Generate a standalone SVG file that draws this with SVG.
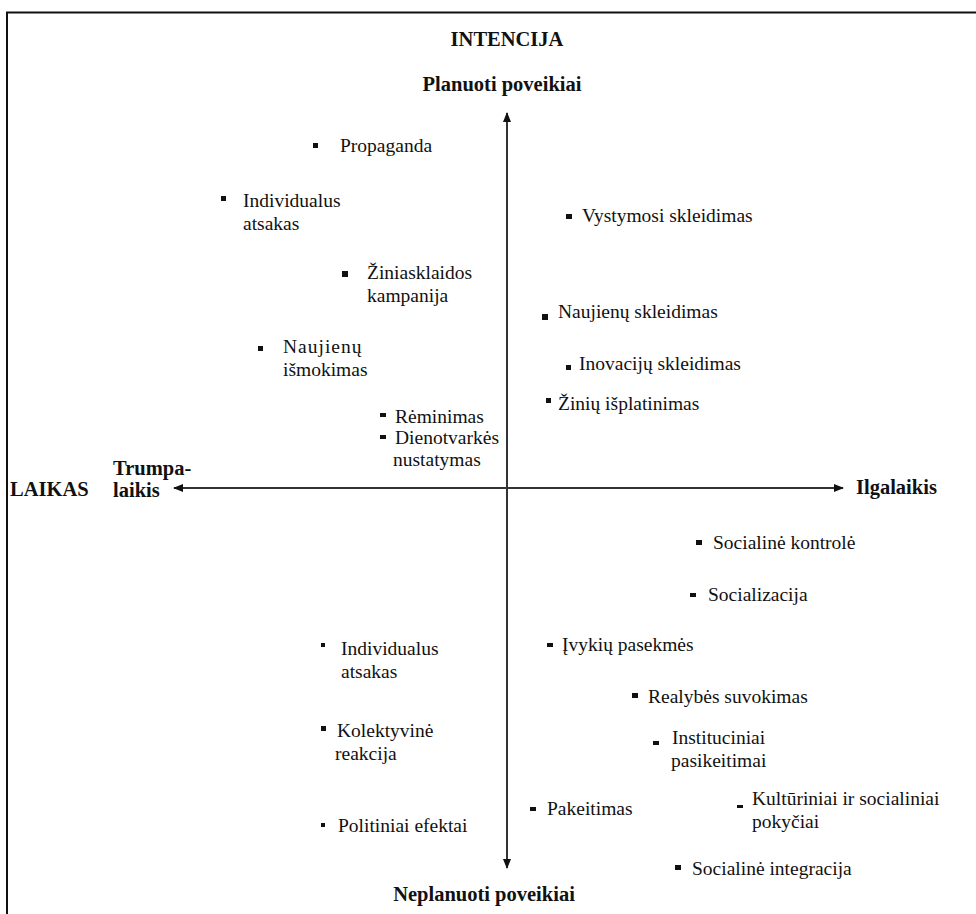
<svg xmlns="http://www.w3.org/2000/svg" width="976" height="914" viewBox="0 0 976 914">
<defs>
<style>
.t{font-family:"Liberation Serif","Tinos","DejaVu Serif","Noto Serif",serif;font-size:19.5px;fill:#111}
.h{font-family:"Liberation Serif","Tinos","DejaVu Serif","Noto Serif",serif;font-size:20.5px;font-weight:bold;fill:#111}
.b{fill:#111}
.ax{stroke:#333;stroke-width:2;fill:none}
</style>
<marker id="ah" viewBox="0 0 10 10" refX="9" refY="5" markerWidth="5" markerHeight="5" orient="auto" markerUnits="strokeWidth">
<path d="M0,1 L10,5 L0,9 z" fill="#111"/>
</marker>
</defs>
<rect x="0" y="0" width="976" height="914" fill="#fff"/>
<path d="M7,914 V12.5 H976" stroke="#111" stroke-width="2" fill="none"/>

<g id="connectors">
<line class="ax" x1="507" y1="862" x2="507" y2="113" marker-end="url(#ah)"/>
<line class="ax" x1="507" y1="862" x2="507" y2="868" marker-end="url(#ah)"/>
<line class="ax" x1="176" y1="488" x2="843" y2="488" marker-end="url(#ah)"/>
<line class="ax" x1="180" y1="488" x2="174" y2="488" marker-end="url(#ah)"/>
</g>

<g id="intencija"><text class="h" x="507" y="46" text-anchor="middle">INTENCIJA</text></g>
<g id="planuoti"><text class="h" x="502" y="91" text-anchor="middle">Planuoti poveikiai</text></g>
<g id="neplanuoti"><text class="h" x="484" y="901" text-anchor="middle">Neplanuoti poveikiai</text></g>
<g id="laikas"><text class="h" x="10" y="496">LAIKAS</text></g>
<g id="trumpalaikis"><text class="h" x="113" y="475">Trumpa-</text><text class="h" x="113" y="497">laikis</text></g>
<g id="ilgalaikis"><text class="h" x="856" y="494">Ilgalaikis</text></g>

<g id="propaganda"><rect class="b" x="313" y="143" width="5" height="5"/><text class="t" x="340" y="152">Propaganda</text></g>
<g id="individualus1"><rect class="b" x="221" y="196" width="5" height="5"/><text class="t" x="243" y="207">Individualus</text><text class="t" x="243" y="230">atsakas</text></g>
<g id="ziniasklaidos"><rect class="b" x="342" y="271" width="6" height="6"/><text class="t" x="367" y="279">Žiniasklaidos</text><text class="t" x="367" y="302">kampanija</text></g>
<g id="naujienu-ismokimas"><rect class="b" x="258" y="346" width="5" height="5"/><text class="t" x="283" y="353" letter-spacing="1">Naujienų</text><text class="t" x="283" y="376">išmokimas</text></g>
<g id="reminimas"><rect class="b" x="380" y="413" width="6" height="4"/><text class="t" x="395" y="423">Rėminimas</text></g>
<g id="dienotvarkes"><rect class="b" x="380" y="435" width="6" height="4"/><text class="t" x="395" y="444">Dienotvarkės</text><text class="t" x="393" y="466">nustatymas</text></g>

<g id="vystymosi"><rect class="b" x="566" y="214" width="6" height="5"/><text class="t" x="582" y="222">Vystymosi skleidimas</text></g>
<g id="naujienu-skleidimas"><rect class="b" x="542" y="314" width="6" height="6"/><text class="t" x="558" y="318">Naujienų skleidimas</text></g>
<g id="inovaciju"><rect class="b" x="566" y="365" width="5" height="5"/><text class="t" x="579" y="370">Inovacijų skleidimas</text></g>
<g id="ziniu"><rect class="b" x="546" y="398" width="5" height="5"/><text class="t" x="558" y="410">Žinių išplatinimas</text></g>

<g id="individualus2"><rect class="b" x="321" y="643" width="4" height="4"/><text class="t" x="341" y="655">Individualus</text><text class="t" x="341" y="678">atsakas</text></g>
<g id="kolektyvine"><rect class="b" x="321" y="726" width="5" height="5"/><text class="t" x="337" y="737">Kolektyvinė</text><text class="t" x="335" y="760">reakcija</text></g>
<g id="politiniai"><rect class="b" x="321" y="823" width="4" height="4"/><text class="t" x="338" y="832">Politiniai efektai</text></g>

<g id="socialine-kontrole"><rect class="b" x="696" y="540" width="6" height="5"/><text class="t" x="713" y="549">Socialinė kontrolė</text></g>
<g id="socializacija"><rect class="b" x="690" y="593" width="6" height="4"/><text class="t" x="708" y="601">Socializacija</text></g>
<g id="ivykiu"><rect class="b" x="547" y="643" width="6" height="4"/><text class="t" x="562" y="651">Įvykių pasekmės</text></g>
<g id="realybes"><rect class="b" x="632" y="693" width="6" height="5"/><text class="t" x="648" y="703">Realybės suvokimas</text></g>
<g id="instituciniai"><rect class="b" x="653" y="741" width="6" height="4"/><text class="t" x="672" y="744">Instituciniai</text><text class="t" x="671" y="767">pasikeitimai</text></g>
<g id="pakeitimas"><rect class="b" x="530" y="807" width="6" height="4"/><text class="t" x="547" y="815">Pakeitimas</text></g>
<g id="kulturiniai"><rect class="b" x="737" y="805" width="6" height="3"/><text class="t" x="752" y="805">Kultūriniai ir socialiniai</text><text class="t" x="752" y="828">pokyčiai</text></g>
<g id="socialine-integracija"><rect class="b" x="675" y="865" width="6" height="5"/><text class="t" x="692" y="875">Socialinė integracija</text></g>
</svg>
